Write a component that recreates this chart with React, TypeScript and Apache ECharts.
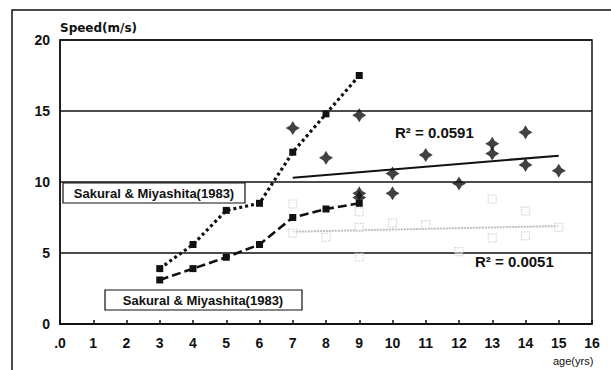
import React, { useEffect, useRef } from "react";
import * as echarts from "echarts";

const ages = [3, 4, 5, 6, 7, 8, 9];
const sakuraiUpper = [3.9, 5.6, 8.0, 8.5, 12.1, 14.8, 17.5];
const sakuraiLower = [3.1, 3.9, 4.7, 5.6, 7.5, 8.1, 8.5];

const blackAges = [7, 8, 9, 9, 9, 10, 10, 11, 12, 13, 13, 14, 14, 15];
const blackSpeeds = [13.8, 11.7, 14.7, 9.2, 8.9, 10.6, 9.2, 11.9, 9.9, 12.7, 12.0, 13.5, 11.2, 10.8];
const blackTrendAges = [7, 15];
const blackTrendSpeeds = [10.3, 11.85];

const greyAges = [7, 7, 8, 9, 9, 9, 10, 11, 12, 13, 13, 14, 14, 15];
const greySpeeds = [8.45, 6.4, 6.1, 7.9, 6.8, 4.7, 7.1, 7.0, 5.1, 8.8, 6.05, 7.95, 6.2, 6.8];
const greyTrendAges = [7, 15];
const greyTrendSpeeds = [6.5, 6.9];

const yTicks = [0, 5, 10, 15, 20];
const xLabels = [".0", "1", "2", "3", "4", "5", "6", "7", "8", "9", "10", "11", "12", "13", "14", "15", "16"];

const pairs = (xs: number[], ys: number[]) => xs.map((x, i) => [x, ys[i]]);

const FONT = "'Liberation Sans', Arial, sans-serif";
const WIDE = "'DejaVu Sans', sans-serif";
const STAR = "path://M5,0 L6.9,3.1 L10,5 L6.9,6.9 L5,10 L3.1,6.9 L0,5 L3.1,3.1 Z";

export default function App() {
  const ref = useRef<HTMLDivElement>(null);
  useEffect(() => {
    if (!ref.current) return;
    const chart = echarts.init(ref.current, undefined, { renderer: "svg" });
    chart.setOption({
      animation: false,
      backgroundColor: "#fff",
      grid: {
        left: 60,
        right: 19,
        top: 40,
        bottom: 46,
        show: true,
        borderColor: "#111",
        borderWidth: 1.5,
      },
      xAxis: {
        type: "value",
        min: 0,
        max: 16,
        interval: 1,
        axisLine: { show: true, onZero: false, lineStyle: { color: "#111", width: 1.5 } },
        axisTick: { show: true, inside: true, length: 4, lineStyle: { color: "#111", width: 1.5 } },
        splitLine: { show: false },
        axisLabel: {
          color: "#111",
          fontFamily: FONT,
          fontWeight: "bold",
          fontSize: 14,
          margin: 12,
          formatter: (v: number) => xLabels[Math.round(v)] ?? String(v),
        },
      },
      yAxis: {
        type: "value",
        min: 0,
        max: 20,
        interval: 5,
        axisLine: { show: true, lineStyle: { color: "#111", width: 1.5 } },
        axisTick: { show: false },
        splitLine: { show: true, lineStyle: { color: "#111", width: 1.5 } },
        axisLabel: {
          color: "#111",
          fontFamily: FONT,
          fontWeight: "bold",
          fontSize: 14,
          margin: 10,
          formatter: (v: number) => (yTicks.includes(v) ? String(v) : ""),
        },
      },
      series: [
        {
          type: "line",
          data: pairs(greyTrendAges, greyTrendSpeeds),
          symbol: "none",
          lineStyle: { color: "#bdbdbd", width: 2, type: [2, 1] },
          z: 1,
        },
        {
          type: "scatter",
          data: pairs(greyAges, greySpeeds),
          symbol: "rect",
          symbolSize: 8,
          itemStyle: { color: "rgba(255,255,255,0.6)", borderColor: "#c4c4c4", borderWidth: 1.2, borderType: "dotted" },
          z: 2,
        },
        {
          type: "line",
          data: pairs(blackTrendAges, blackTrendSpeeds),
          symbol: "none",
          lineStyle: { color: "#111", width: 2.2 },
          z: 3,
        },
        {
          type: "scatter",
          data: pairs(blackAges, blackSpeeds),
          symbol: STAR,
          symbolSize: 14,
          itemStyle: { color: "#111" },
          z: 4,
        },
        {
          type: "line",
          data: pairs(ages, sakuraiUpper),
          symbol: "rect",
          symbolSize: 7,
          showSymbol: true,
          itemStyle: { color: "#111" },
          lineStyle: { color: "#111", width: 3.2, type: [3, 3] },
          z: 5,
        },
        {
          type: "line",
          data: pairs(ages, sakuraiLower),
          symbol: "rect",
          symbolSize: 7,
          showSymbol: true,
          itemStyle: { color: "#111" },
          lineStyle: { color: "#111", width: 2.6, type: [9, 4] },
          z: 5,
        },
      ],
      graphic: [
        {
          type: "rect",
          shape: { x: 12, y: 10, width: 700, height: 400 },
          style: { fill: "none", stroke: "#111", lineWidth: 1.5 },
          silent: true,
        },
        {
          type: "text",
          left: 60,
          top: 22,
          style: { text: "Speed(m/s)", font: `bold 12px ${WIDE}`, fill: "#111" },
        },
        {
          type: "text",
          left: 553,
          top: 355,
          style: { text: "age(yrs)", font: `11px ${FONT}`, fill: "#111" },
        },
        {
          type: "text",
          left: 395,
          top: 125,
          style: { text: "R² = 0.0591", font: `bold 15px ${FONT}`, fill: "#111" },
        },
        {
          type: "text",
          left: 475,
          top: 254,
          style: { text: "R² = 0.0051", font: `bold 15px ${FONT}`, fill: "#111" },
        },
        {
          type: "rect",
          shape: { x: 63, y: 183, width: 182, height: 20 },
          style: { fill: "#fff", stroke: "#111", lineWidth: 1.2 },
          z: 10,
        },
        {
          type: "text",
          x: 154,
          y: 193,
          style: { text: "Sakural & Miyashita(1983)", font: `bold 13px ${FONT}`, fill: "#111", align: "center", verticalAlign: "middle" },
          z: 11,
        },
        {
          type: "rect",
          shape: { x: 105, y: 290, width: 197, height: 20 },
          style: { fill: "#fff", stroke: "#111", lineWidth: 1.2 },
          z: 10,
        },
        {
          type: "text",
          x: 203,
          y: 300,
          style: { text: "Sakural & Miyashita(1983)", font: `bold 13px ${FONT}`, fill: "#111", align: "center", verticalAlign: "middle" },
          z: 11,
        },
      ],
    });
    return () => chart.dispose();
  }, []);
  return (
    <div
      ref={ref}
      style={{ position: "fixed", left: 0, top: 0, width: 611, height: 370 }}
    />
  );
}
